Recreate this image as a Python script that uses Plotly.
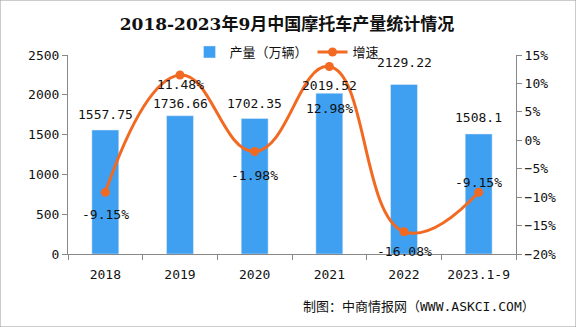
import plotly.graph_objects as go

categories = ["2018", "2019", "2020", "2021", "2022", "2023.1-9"]
output = [1557.75, 1736.66, 1702.35, 2019.52, 2129.22, 1508.1]
growth = [-9.15, 11.48, -1.98, 12.98, -16.08, -9.15]
output_labels = ["1557.75", "1736.66", "1702.35", "2019.52", "2129.22", "1508.1"]
growth_labels = ["-9.15%", "11.48%", "-1.98%", "12.98%", "-16.08%", "-9.15%"]
output_shift = [16, 12, 15, 8, 22, 16]
growth_shift = [-22, -9, -24, -42, -20, 10]

font_fam = "DejaVu Sans Mono, Noto Sans CJK SC"
bar_color = "#3F9FF0"
line_color = "#F26A22"

L, R, T, B = 68, 60, 55, 73
PW, PH = 576 - L - R, 327 - T - B

fig = go.Figure()
fig.add_trace(go.Bar(
    x=categories, y=output, name="产量（万辆）", marker_color=bar_color, width=0.36,
))
fig.add_trace(go.Scatter(
    x=categories, y=growth, name="增速", yaxis="y2", mode="lines+markers",
    line=dict(color=line_color, width=3, shape="spline", smoothing=1.3),
    marker=dict(size=9, color=line_color), cliponaxis=False,
))

axis_common = dict(showline=True, linecolor="#888", linewidth=1, ticks="outside",
                   tickcolor="#888", ticklen=5, showgrid=False, zeroline=False,
                   tickfont=dict(size=13, color="#111", family=font_fam))

annotations = [dict(text="制图：中商情报网（WWW.ASKCI.COM）", xref="paper", yref="paper",
                    x=(537 - L) / PW, xanchor="right", y=-(306 - (327 - B)) / PH, yanchor="middle",
                    showarrow=False, font=dict(size=13, color="#111", family=font_fam))]
for i, (v, lab, s) in enumerate(zip(output, output_labels, output_shift)):
    annotations.append(dict(x=i, y=v, xref="x", yref="y", text=lab, showarrow=False,
                            yanchor="middle", yshift=s,
                            font=dict(size=13, color="#111", family=font_fam)))
for i, (g, lab, s) in enumerate(zip(growth, growth_labels, growth_shift)):
    annotations.append(dict(x=i, y=g, xref="x", yref="y2", text=lab, showarrow=False,
                            yanchor="middle", yshift=s,
                            font=dict(size=13, color="#111", family=font_fam)))

fig.update_layout(
    width=576, height=327,
    margin=dict(l=L, r=R, t=T, b=B),
    paper_bgcolor="white", plot_bgcolor="white",
    font=dict(family=font_fam, size=13, color="#111"),
    title=dict(text="<b>2018-2023年9月中国摩托车产量统计情况</b>", x=287 / 576, xanchor="center",
               xref="container", y=1 - 24 / 327, yanchor="middle",
               font=dict(size=17, color="#111", family="DejaVu Serif, Noto Sans CJK SC")),
    xaxis=dict(**axis_common, tickson="boundaries", type="category", ticklabelstandoff=8,
               range=[-0.5, len(categories) - 0.5]),
    yaxis=dict(**axis_common, range=[0, 2500], dtick=500),
    yaxis2=dict(**axis_common, range=[-20, 15], dtick=5, ticksuffix="%",
                overlaying="y", side="right"),
    legend=dict(orientation="h", x=(287 - L) / PW, xanchor="center", y=1 + 3 / PH, yanchor="middle",
                font=dict(size=13, family=font_fam), bgcolor="rgba(0,0,0,0)", itemwidth=30),
    showlegend=True,
    shapes=[dict(type="rect", xref="paper", yref="paper", x0=-L / PW, x1=1 + R / PW,
                 y0=-B / PH, y1=1 + T / PH, line=dict(color="#999", width=1))],
    annotations=annotations,
)

fig.write_html("out.html")
